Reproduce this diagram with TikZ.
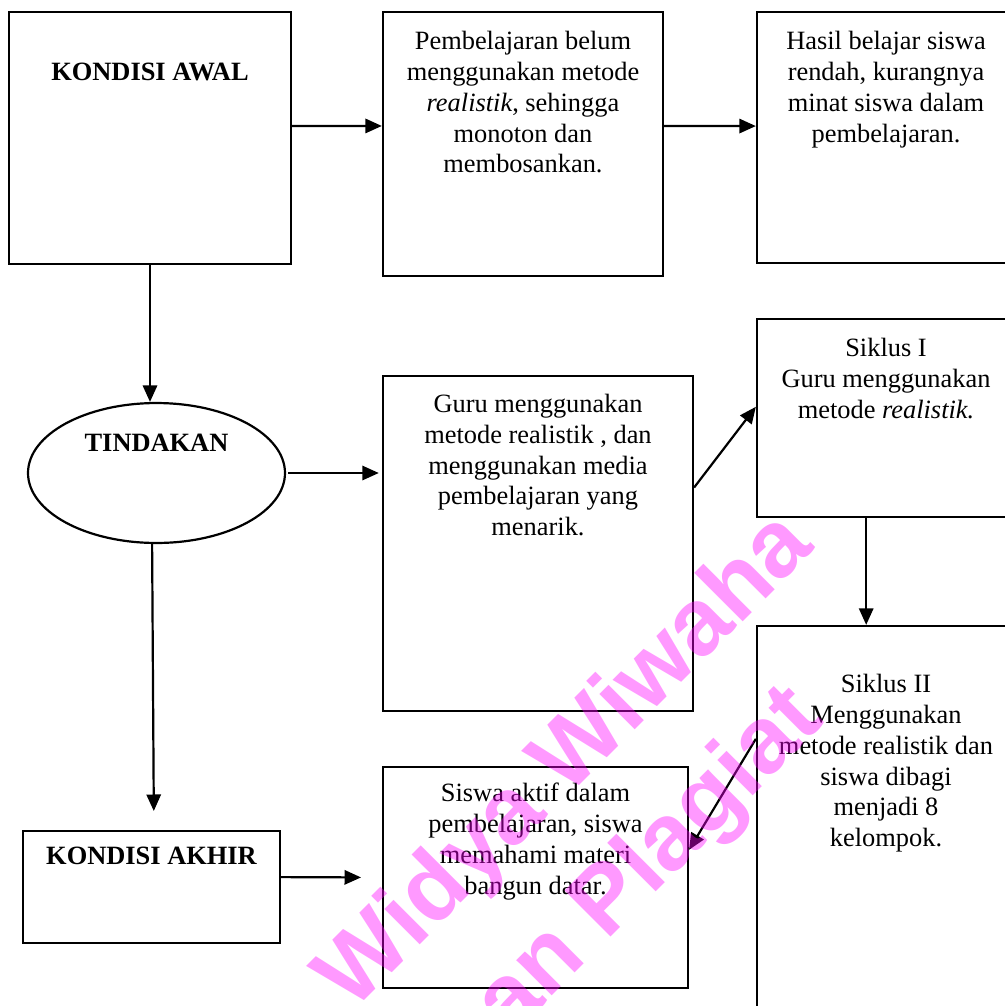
\documentclass[tikz,border=0pt]{standalone}
\usepackage{fontspec}
\setmainfont{Liberation Serif}
\newfontfamily\wmfont{Liberation Sans}
\usepackage{xcolor}
\usepackage{tikz}
\usetikzlibrary{
  arrows.meta,
  positioning,
  shapes.geometric,
  calc
}
\definecolor{WmPink}{HTML}{FF00FF}

\tikzset{
  box/.style={draw, line width=1pt, rectangle, inner sep=0pt},
  oval/.style={draw, line width=1pt, ellipse, inner sep=0pt},
  txt/.style={align=center, inner sep=0pt, anchor=north,
              font=\fontsize{12}{14}\selectfont},
  head/.style={align=center, inner sep=0pt, anchor=base,
               font=\fontsize{12}{14}\selectfont\bfseries},
  arr/.style={line width=1pt, -{Triangle[length=7.5pt,width=6.5pt]}},
  wm/.style={font=\wmfont\bfseries\fontsize{43}{50}\selectfont,
             text=WmPink, text opacity=0.4, rotate=45, inner sep=0pt}
}

\begin{document}
\begin{tikzpicture}[x=0.4545pt, y=-0.4545pt]
  \clip (0,0) rectangle (1005,1006);

  % top row
  \node[box, minimum width=128.2pt, minimum height=114.5pt] (awal) at (150,138) {};
  \node[box, minimum width=127.3pt, minimum height=120pt] (pemb) at (523,144) {};
  \node[box, minimum width=117.3pt, minimum height=114.1pt] (hasil) at (886,137.5) {};
  \node[head] (awalT) at ([yshift=-31.8pt]awal.north) {KONDISI AWAL};
  \node[txt] (pembT) at ([yshift=-9.1pt]pemb.north) {Pembelajaran belum\\
    menggunakan metode\\ \textit{realistik}, sehingga\\ monoton dan\\ membosankan.};
  \node[txt] (hasilT) at ([yshift=-9.1pt]hasil.north) {Hasil belajar siswa\\
    rendah, kurangnya\\ minat siswa dalam\\ pembelajaran.};

  % middle row
  \node[oval, minimum width=116.8pt, minimum height=63.6pt] (tindakan) at (156.5,473) {};
  \node[box, minimum width=140.9pt, minimum height=152.3pt] (guru) at (538,543.5) {};
  \node[box, minimum width=117.3pt, minimum height=90pt] (siklus1) at (886,418) {};
  \node[head] (tindakanT) at ([yshift=-22.7pt]tindakan.north) {TINDAKAN};
  \node[txt] (guruT) at ([yshift=-8.6pt]guru.north) {Guru menggunakan\\
    metode realistik , dan\\ menggunakan media\\ pembelajaran yang\\ menarik.};
  \node[txt] (siklus1T) at ([yshift=-9.1pt]siklus1.north) {Siklus I\\
    Guru menggunakan\\ metode \textit{realistik.}};

  % bottom row
  \node[box, minimum width=116.8pt, minimum height=50.9pt] (akhir) at (151.5,887) {};
  \node[box, minimum width=138.6pt, minimum height=100.5pt] (siswa) at (535.5,877.5) {};
  \node[box, minimum width=117.3pt, minimum height=188.2pt] (siklus2) at (886,833) {};
  \node[head] (akhirT) at ([yshift=-15.5pt]akhir.north) {KONDISI AKHIR};
  \node[txt] (siswaT) at ([yshift=-7.7pt]siswa.north) {Siswa aktif dalam\\
    pembelajaran, siswa\\ memahami materi\\ bangun datar.};
  \node[txt] (siklus2T) at ([yshift=-22.3pt]siklus2.north) {Siklus II\\
    Menggunakan\\ metode realistik dan\\ siswa dibagi\\ menjadi 8\\ kelompok.};

  % arrows
  \draw[arr] ([yshift=5.5pt]awal.east) -- ([yshift=8.2pt]pemb.west);
  \draw[arr] ([yshift=8.2pt]pemb.east) -- ([yshift=5.2pt]hasil.west);
  \draw[arr] (awal.south) -- (awal.south |- tindakan.north);
  \draw[arr, shorten <=1pt, shorten >=1.4pt] (tindakan.east) -- (tindakan.east -| guru.west);
  \draw[arr, shorten >=8.6pt] ([xshift=-2pt]tindakan.south) -- ([xshift=1.1pt]akhir.north);
  \draw[arr, shorten >=9.5pt] ([yshift=4.5pt]akhir.east) -- (siswa.west);
  \draw[arr] ([xshift=-9pt]siklus1.south) -- ([xshift=-9pt]siklus2.north);
  \draw[arr] ($(guru.north east)!0.334!(guru.south east)$)
    -- ($(siklus1.north west)!0.444!(siklus1.south west)$);
  \draw[arr] ([yshift=-51.8pt]siklus2.north west)
    -- ($(siswa.north east)!0.376!(siswa.south east)$);

  % watermark
  \node[wm] (wm1) at (567,763) {Widya Wiwaha};
  \node[wm] (wm2) at (573,941) {Jangan Plagiat};
\end{tikzpicture}
\end{document}
